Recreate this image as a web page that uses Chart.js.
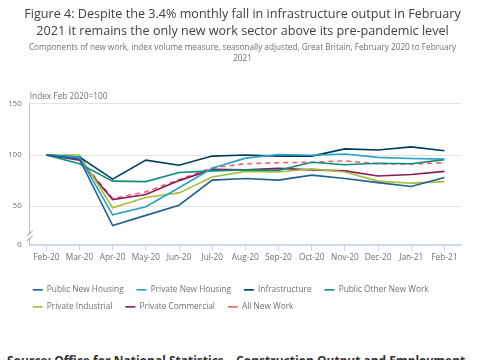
<!DOCTYPE html>
<html>
<head>
<meta charset="utf-8">
<script src="https://cdn.jsdelivr.net/npm/chart.js@4/dist/chart.umd.min.js"></script>
<style>
  html, body { margin: 0; padding: 0; background: #fff; overflow: hidden; }
  #wrap { position: relative; width: 485px; height: 350px; }
  #source {
    position: absolute; left: 7px; top: 352px;
    font: bold 12px "Open Sans", sans-serif; color: #323132; white-space: nowrap;
  }
</style>
</head>
<body>
<div id="wrap"><canvas id="chart" width="485" height="350"></canvas></div>
<div id="source">Source: Office for National Statistics – Construction Output and Employment</div>
<script>
// Mois (catégories)
const months = ['Feb-20', 'Mar-20', 'Apr-20', 'May-20', 'Jun-20', 'Jul-20', 'Aug-20',
                'Sep-20', 'Oct-20', 'Nov-20', 'Dec-20', 'Jan-21', 'Feb-21'];

// Séries (index, Feb 2020 = 100)
const publicNewHousing   = [100, 96, 31, 41, 51, 75.5, 77, 75.5, 80.4, 77, 73, 69.3, 78];
const privateNewHousing  = [100, 98, 41.5, 49.5, 68, 87, 97, 100.5, 99.8, 101, 97.7, 96.7, 96];
const infrastructure     = [100, 98, 76.5, 95, 90, 99, 100, 99, 99, 106, 105, 108, 104.2];
const publicOtherNewWork = [100, 91.5, 74.5, 74, 83, 84.5, 85.5, 85, 93, 90.5, 92, 91.5, 95.5];
const privateIndustrial  = [100, 100, 48.5, 58.5, 63, 78.5, 84, 83.5, 86.5, 83.5, 74.5, 72.5, 74];
const privateCommercial  = [100, 95, 56.5, 61.5, 75, 86, 85.5, 87, 85.5, 84.5, 79.5, 81, 84];
const allNewWork         = [100, 96.5, 57.5, 64, 76, 87.5, 91.5, 92.5, 93, 94.3, 91.5, 91.2, 92.5];

// Graduations de l'axe y (le bas de l'axe est coupé et étiqueté 0)
const axisBreakValue = 12;
const yTicks = [axisBreakValue, 50, 100, 150];

const textGrey = '#707071';

function line(label, data, color, dash) {
    return {
        label: label,
        data: data,
        borderColor: color,
        backgroundColor: color,
        borderWidth: 1.6,
        borderDash: dash || [],
        pointRadius: 0,
        pointHoverRadius: 0,
        tension: 0,
        fill: false
    };
}

// Ajustements de mise en page, étiquette "Index" et coupure de l'axe y
const extras = {
    id: 'extras',
    afterLayout(chart) {
        // titres centrés sur toute la largeur
        chart.boxes.forEach(b => {
            if (b.position === 'top') { b.left += 12; b.right += 12; }
        });
        // légende décalée
        chart.legend.left += 24;
        chart.legend.right += 24;
        chart.legend.top += 12;
        chart.legend.bottom += 12;
    },
    afterDraw(chart) {
        const ctx = chart.ctx;
        const area = chart.chartArea;
        const y = chart.scales.y;
        ctx.save();
        ctx.font = '8.3px "Open Sans", sans-serif';
        ctx.fillStyle = textGrey;
        ctx.textAlign = 'left';
        ctx.textBaseline = 'bottom';
        ctx.fillText('Index Feb 2020=100', area.left, area.top - 3);

        // coupure de l'axe
        const by = y.getPixelForValue(axisBreakValue + 8);
        ctx.fillStyle = '#fff';
        ctx.fillRect(area.left - 2, by - 2, 4, 4);
        ctx.strokeStyle = '#9a9a9a';
        ctx.lineWidth = 1;
        ctx.beginPath();
        ctx.moveTo(area.left - 3, by - 1);
        ctx.lineTo(area.left + 3, by - 6);
        ctx.moveTo(area.left - 3, by + 4);
        ctx.lineTo(area.left + 3, by - 1);
        ctx.stroke();
        ctx.restore();
    }
};

const config = {
    type: 'line',
    data: {
        labels: months,
        datasets: [
            line('Public New Housing', publicNewHousing, '#206095'),
            line('Private New Housing', privateNewHousing, '#27a0cc'),
            line('Infrastructure', infrastructure, '#003c57'),
            line('Public Other New Work', publicOtherNewWork, '#118c7b'),
            line('Private Industrial', privateIndustrial, '#a8bd3a'),
            line('Private Commercial', privateCommercial, '#871a5b'),
            line('All New Work', allNewWork, '#f66068', [5, 4])
        ]
    },
    options: {
        responsive: false,
        animation: false,
        layout: { padding: { left: 0, right: 24, top: 0, bottom: 41 } },
        plugins: {
            title: {
                display: true,
                text: ['Figure 4: Despite the 3.4% monthly fall in infrastructure output in February',
                       '2021 it remains the only new work sector above its pre-pandemic level'],
                color: '#414042',
                font: { family: '"Open Sans", sans-serif', size: 12.6, weight: 'normal', lineHeight: 1.42 },
                padding: { top: 5, bottom: 1 }
            },
            subtitle: {
                display: true,
                text: ['Components of new work, index volume measure, seasonally adjusted, Great Britain, February 2020 to February',
                       '2021'],
                color: textGrey,
                font: { family: '"Open Sans", sans-serif', size: 8.2, lineHeight: 1.35 },
                padding: { top: 0, bottom: 40 }
            },
            legend: {
                position: 'bottom',
                align: 'start',
                labels: {
                    usePointStyle: true,
                    pointStyle: 'line',
                    pointStyleWidth: 10,
                    color: textGrey,
                    font: { family: '"Open Sans", sans-serif', size: 8.3 },
                    padding: 8.7,
                    generateLabels(chart) {
                        const items = Chart.defaults.plugins.legend.labels.generateLabels(chart);
                        items.forEach(it => { it.text = it.text + '\u2002'; });
                        return items;
                    }
                }
            },
            tooltip: { enabled: false }
        },
        scales: {
            x: {
                offset: true,
                grid: {
                    display: true,
                    drawOnChartArea: false,
                    drawTicks: true,
                    tickLength: 6,
                    color: '#cfd8ea'
                },
                border: { display: true, color: '#cfd8ea', width: 2 },
                ticks: {
                    color: textGrey,
                    font: { family: '"Open Sans", sans-serif', size: 8.3 },
                    maxRotation: 0,
                    autoSkip: false,
                    padding: 2
                }
            },
            y: {
                min: axisBreakValue,
                max: 150,
                afterBuildTicks: function(scale) {
                    scale.ticks = yTicks.map(v => ({ value: v }));
                },
                grid: {
                    drawTicks: false,
                    color: ctx => (ctx.tick && ctx.tick.value === axisBreakValue) ? 'rgba(0,0,0,0)' : '#e4e4e4'
                },
                border: { display: true, color: '#bdbdbd' },
                ticks: {
                    color: textGrey,
                    font: { family: '"Open Sans", sans-serif', size: 8 },
                    padding: 8,
                    callback: v => (v === axisBreakValue ? '0' : v)
                }
            }
        }
    },
    plugins: [extras]
};

new Chart(document.getElementById('chart'), config);
</script>
</body>
</html>
